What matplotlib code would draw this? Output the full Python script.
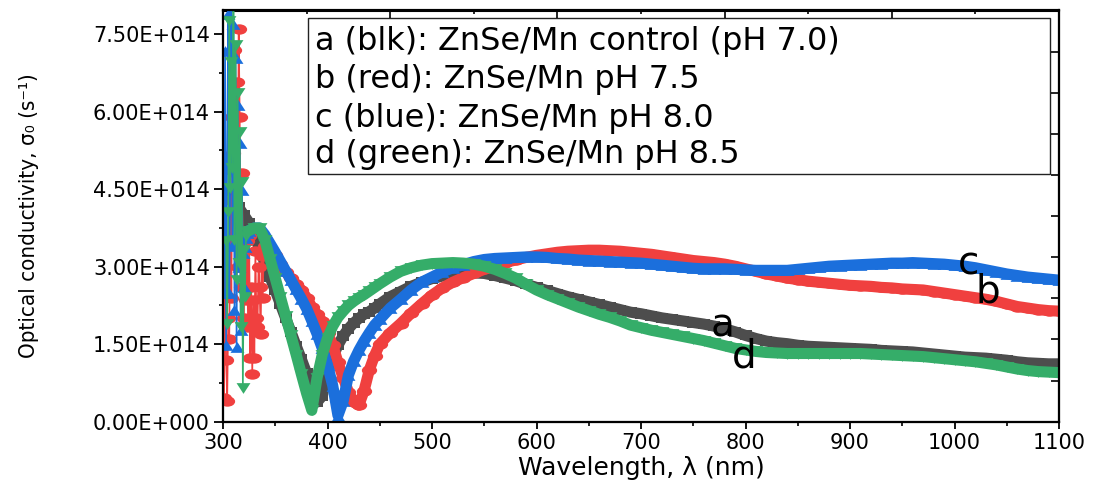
import numpy as np
import matplotlib
matplotlib.use("Agg")
import matplotlib.pyplot as plt
from matplotlib.path import Path
from matplotlib.transforms import Affine2D
from matplotlib.ticker import MultipleLocator, FixedLocator
from matplotlib.patches import Rectangle
from matplotlib import font_manager

# ---------------- data (sigma in units of 1e14 s^-1) ----------------
# noisy short-wavelength parts
b_noise_wl = list(range(301, 341))
b_noise_val = [0.45, 3.40, 1.19, 0.41, 2.00, 1.60, 4.30, 2.40, 5.90, 5.20,
               7.20, 4.82, 6.57, 3.00, 7.60, 5.90, 2.60, 4.82, 3.30, 2.00,
               3.70, 2.35, 3.50, 1.83, 3.60, 1.24, 2.60, 0.93, 2.35, 1.24,
               3.30, 2.00, 1.83, 3.00, 2.60, 1.70, 3.20, 2.40, 3.30, 3.40]
c_noise_wl = list(range(301, 324))
c_noise_val = [2.50, 7.17, 1.48, 5.10, 7.90, 2.49, 4.90, 8.30, 3.40, 7.69,
               2.16, 7.05, 1.44, 6.14, 2.99, 5.40, 1.77, 4.49, 3.26, 2.60,
               3.38, 3.55, 3.65]
d_noise_wl = list(range(303, 324))
d_noise_val = [3.50, 1.90, 4.06, 7.75, 4.53, 6.97, 4.92, 8.30, 3.52, 7.30,
               2.74, 6.37, 3.07, 5.60, 1.83, 4.64, 0.66, 3.32, 2.41, 3.60, 3.68]

# smooth parts: fine grid (5 nm) up to 450 nm, then 10 nm
a_wl = list(range(300, 451, 5)) + list(range(460, 1101, 10))
a_val = [4.45, 4.40, 4.30, 4.15, 4.00, 3.85, 3.60, 3.35, 3.07, 2.80,
         2.54, 2.27, 2.00, 1.74, 1.47, 1.21, 0.94, 0.68, 0.38, 0.50,
         0.95, 1.25, 1.48, 1.66, 1.80, 1.91, 2.00, 2.08, 2.13, 2.20, 2.28,
         2.42, 2.52, 2.62, 2.70, 2.77, 2.82, 2.85, 2.87, 2.88, 2.87,
         2.83, 2.78, 2.73, 2.66, 2.60, 2.54, 2.48, 2.42, 2.37, 2.32,
         2.27, 2.22, 2.17, 2.12, 2.09, 2.05, 2.01, 1.98, 1.95, 1.92,
         1.89, 1.85, 1.80, 1.74, 1.67, 1.61, 1.56, 1.53, 1.51, 1.48,
         1.46, 1.45, 1.44, 1.43, 1.42, 1.41, 1.40, 1.38, 1.37, 1.36,
         1.35, 1.33, 1.31, 1.29, 1.27, 1.25, 1.24, 1.23, 1.21, 1.19,
         1.16, 1.14, 1.13, 1.12, 1.12]

b_wl = list(range(345, 451, 5)) + list(range(460, 1101, 10))
b_val = [3.35, 3.22, 3.06, 2.90, 2.78, 2.66, 2.55, 2.40, 2.22, 2.08,
         1.94, 1.72, 1.48, 1.15, 0.85, 0.58, 0.38, 0.32, 0.60, 1.00,
         1.28, 1.50,
         1.72, 1.90, 2.10, 2.28, 2.45, 2.59, 2.70, 2.79, 2.87, 2.95,
         3.02, 3.08, 3.13, 3.18, 3.22, 3.25, 3.28, 3.30, 3.31, 3.32,
         3.32, 3.31, 3.30, 3.28, 3.26, 3.24, 3.21, 3.18, 3.15, 3.12,
         3.10, 3.08, 3.05, 3.01, 2.96, 2.91, 2.86, 2.82, 2.78, 2.75,
         2.72, 2.70, 2.68, 2.66, 2.64, 2.63, 2.62, 2.60, 2.59, 2.57,
         2.56, 2.55, 2.52, 2.49, 2.46, 2.43, 2.40, 2.37, 2.33, 2.28,
         2.23, 2.20, 2.17, 2.15, 2.14]

c_wl = list(range(325, 451, 5)) + list(range(460, 1101, 10))
c_val = [3.70, 3.75, 3.75, 3.62, 3.45, 3.28, 3.10, 2.92, 2.74, 2.56,
         2.38, 2.19, 1.95, 1.70, 1.42, 1.10, 0.70, 0.12, 0.40, 0.90,
         1.17, 1.38, 1.56, 1.72, 1.87, 1.98,
         2.20, 2.37, 2.55, 2.70, 2.80, 2.90, 2.98, 3.04, 3.10, 3.14,
         3.16, 3.17, 3.18, 3.19, 3.19, 3.18, 3.16, 3.15, 3.13, 3.12,
         3.11, 3.10, 3.09, 3.08, 3.07, 3.05, 3.03, 3.01, 2.99, 2.97,
         2.96, 2.96, 2.96, 2.95, 2.94, 2.93, 2.93, 2.93, 2.93, 2.95,
         2.97, 2.99, 3.01, 3.02, 3.03, 3.04, 3.05, 3.06, 3.07, 3.07,
         3.08, 3.07, 3.06, 3.05, 3.03, 3.01, 2.98, 2.94, 2.90, 2.86,
         2.83, 2.80, 2.78, 2.76, 2.74]

d_wl = list(range(325, 451, 5)) + list(range(460, 1101, 10))
d_val = [3.70, 3.75, 3.75, 3.52, 3.15, 2.78, 2.41, 2.04, 1.67, 1.30,
         0.92, 0.55, 0.22, 0.85, 1.30, 1.62, 1.85, 2.02, 2.14, 2.25,
         2.33, 2.40, 2.46, 2.53, 2.60, 2.67,
         2.80, 2.91, 2.98, 3.03, 3.06, 3.07, 3.08, 3.07, 3.05, 3.01,
         2.95, 2.87, 2.78, 2.66, 2.55, 2.46, 2.38, 2.30, 2.22, 2.15,
         2.08, 2.02, 1.95, 1.87, 1.82, 1.77, 1.73, 1.69, 1.65, 1.61,
         1.57, 1.52, 1.47, 1.42, 1.39, 1.36, 1.34, 1.33, 1.32, 1.32,
         1.32, 1.32, 1.32, 1.32, 1.32, 1.32, 1.31, 1.30, 1.29, 1.28,
         1.27, 1.26, 1.24, 1.22, 1.20, 1.18, 1.16, 1.13, 1.10, 1.06,
         1.02, 0.99, 0.97, 0.96, 0.95]

legend_lines = ["a (blk): ZnSe/Mn control (pH 7.0)",
                "b (red): ZnSe/Mn pH 7.5",
                "c (blue): ZnSe/Mn pH 8.0",
                "d (green): ZnSe/Mn pH 8.5"]
curve_letters = ["a", "b", "c", "d"]
letter_pos = [(778.5, 1.64), (1032, 2.30), (1013, 2.84), (798.6, 1.04)]

xtick_vals = [300, 400, 500, 600, 700, 800, 900, 1000, 1100]
ytick_vals = [0.0, 1.5, 3.0, 4.5, 6.0, 7.5]
ytick_labels = ["0.00E+000", "1.50E+014", "3.00E+014", "4.50E+014",
                "6.00E+014", "7.50E+014"]

# ---------------- style ----------------
plt.rcParams['font.family'] = ['DejaVu Sans']
GRAY, RED, BLUE, GREEN = '#4d4d4d', '#f0403f', '#1b6fdc', '#35ad69'

m_ellipse = Affine2D().scale(1.0, 0.68).transform_path(Path.unit_circle())
m_square = Path([(-1, -0.75), (1, -0.75), (1, 0.75), (-1, 0.75), (-1, -0.75)], closed=True)
m_up = Path([(-1, -0.77), (1, -0.77), (0, 0.77), (-1, -0.77)], closed=True)
m_dn = Path([(-1, 0.77), (1, 0.77), (0, -0.77), (-1, 0.77)], closed=True)

fig = plt.figure(figsize=(10.95, 4.92), dpi=100)
L, R, B, T = 223, 1059, 421.7, 10.5
ax = fig.add_axes([L / 1095, (492 - B) / 492, (R - L) / 1095, (B - T) / 492])

band = 8
# a (gray squares)
ax.plot(a_wl, a_val, color=GRAY, lw=band, marker=m_square, ms=9, mew=0,
        solid_joinstyle='round', zorder=2)
# b (red circles)
ax.plot(b_noise_wl, b_noise_val, color=RED, lw=1.2, marker=m_ellipse, ms=11, mew=0, zorder=3)
ax.plot(b_wl, b_val, color=RED, lw=band, marker=m_ellipse, ms=11, mew=0,
        solid_joinstyle='round', zorder=3)
# c (blue up-triangles)
ax.plot(c_noise_wl, c_noise_val, color=BLUE, lw=1.2, marker=m_up, ms=10, mew=0, zorder=4)
ax.plot(c_wl, c_val, color=BLUE, lw=band, marker=m_up, ms=10, mew=0,
        solid_joinstyle='round', zorder=4)
# d (green down-triangles)
ax.plot(d_noise_wl, d_noise_val, color=GREEN, lw=1.2, marker=m_dn, ms=10, mew=0, zorder=5)
ax.plot(d_wl, d_val, color=GREEN, lw=band, marker=m_dn, ms=10, mew=0,
        solid_joinstyle='round', zorder=5)

ax.set_xlim(300, 1100)
ax.set_ylim(0, 7.96)

ax.xaxis.set_major_locator(FixedLocator(xtick_vals))
ax.xaxis.set_minor_locator(MultipleLocator(50))
ax.yaxis.set_major_locator(FixedLocator(ytick_vals))
ax.yaxis.set_minor_locator(MultipleLocator(0.75))
ax.set_yticklabels(ytick_labels)

ax.tick_params(axis='both', which='both', direction='out', top=False, right=False,
               labelsize=15, colors='black')
ax.tick_params(axis='y', which='major', length=6.5, width=1.3, pad=3)
ax.tick_params(axis='y', which='minor', length=3, width=1.2)
ax.tick_params(axis='x', which='major', length=5, width=1.3, pad=3)
ax.tick_params(axis='x', which='minor', length=3, width=1.2)
for s in ax.spines.values():
    s.set_linewidth(1.5)
    s.set_color('black')

# top and right axes with their own inward ticks
axr = ax.twinx()
axr.set_ylim(0, 10)
axr.yaxis.set_major_locator(FixedLocator(list(range(1, 10))))
axr.tick_params(axis='y', which='both', direction='in', length=5.5, width=1.2,
                right=True, left=False, labelright=False, labelleft=False)
axt = ax.twiny()
axt.set_xlim(0, 5)
axt.xaxis.set_major_locator(FixedLocator([1, 2, 3, 4]))
axt.xaxis.set_minor_locator(FixedLocator([0.5, 1.5, 2.5, 3.5, 4.5]))
axt.tick_params(axis='x', which='major', direction='in', length=5.5, width=1.2,
                top=True, bottom=False, labeltop=False, labelbottom=False)
axt.tick_params(axis='x', which='minor', direction='in', length=3, width=1.2,
                top=True, bottom=False)
for a2 in (axr, axt):
    for s in a2.spines.values():
        s.set_linewidth(1.5)

# axis labels
ax.set_xlabel("Wavelength, λ (nm)", fontsize=18, va='top')
ax.xaxis.set_label_coords(0.5, (B - 456) / (B - T))

names = {f.name for f in font_manager.fontManager.ttflist}
if 'Liberation Sans Narrow' in names:
    ylab_kw = dict(family=['Liberation Sans Narrow', 'DejaVu Sans'], fontsize=19)
else:
    ylab_kw = dict(family=['DejaVu Sans'], fontsize=16, fontstretch='condensed')
ax.set_ylabel("Optical conductivity, σ₀ (s⁻¹)", va='center', **ylab_kw)
ax.yaxis.set_label_coords((29 - L) / (R - L), 0.5)

# legend box (text only, as in the reference)
ax.add_patch(Rectangle((0.1017, 0.6024), 0.8875, 0.3794, transform=ax.transAxes,
                       facecolor='white', edgecolor='#222222', lw=1.0, zorder=10))
for txt, yb in zip(legend_lines, [0.9039, 0.8115, 0.7167, 0.6291]):
    ax.text(0.110, yb, txt, transform=ax.transAxes, fontsize=23, ha='left',
            va='baseline', zorder=11)

# curve letters
for lab, (lx, ly) in zip(curve_letters, letter_pos):
    ax.text(lx, ly, lab, fontsize=28, ha='center', va='baseline', zorder=12)

fig.savefig("out.png", dpi=100)
